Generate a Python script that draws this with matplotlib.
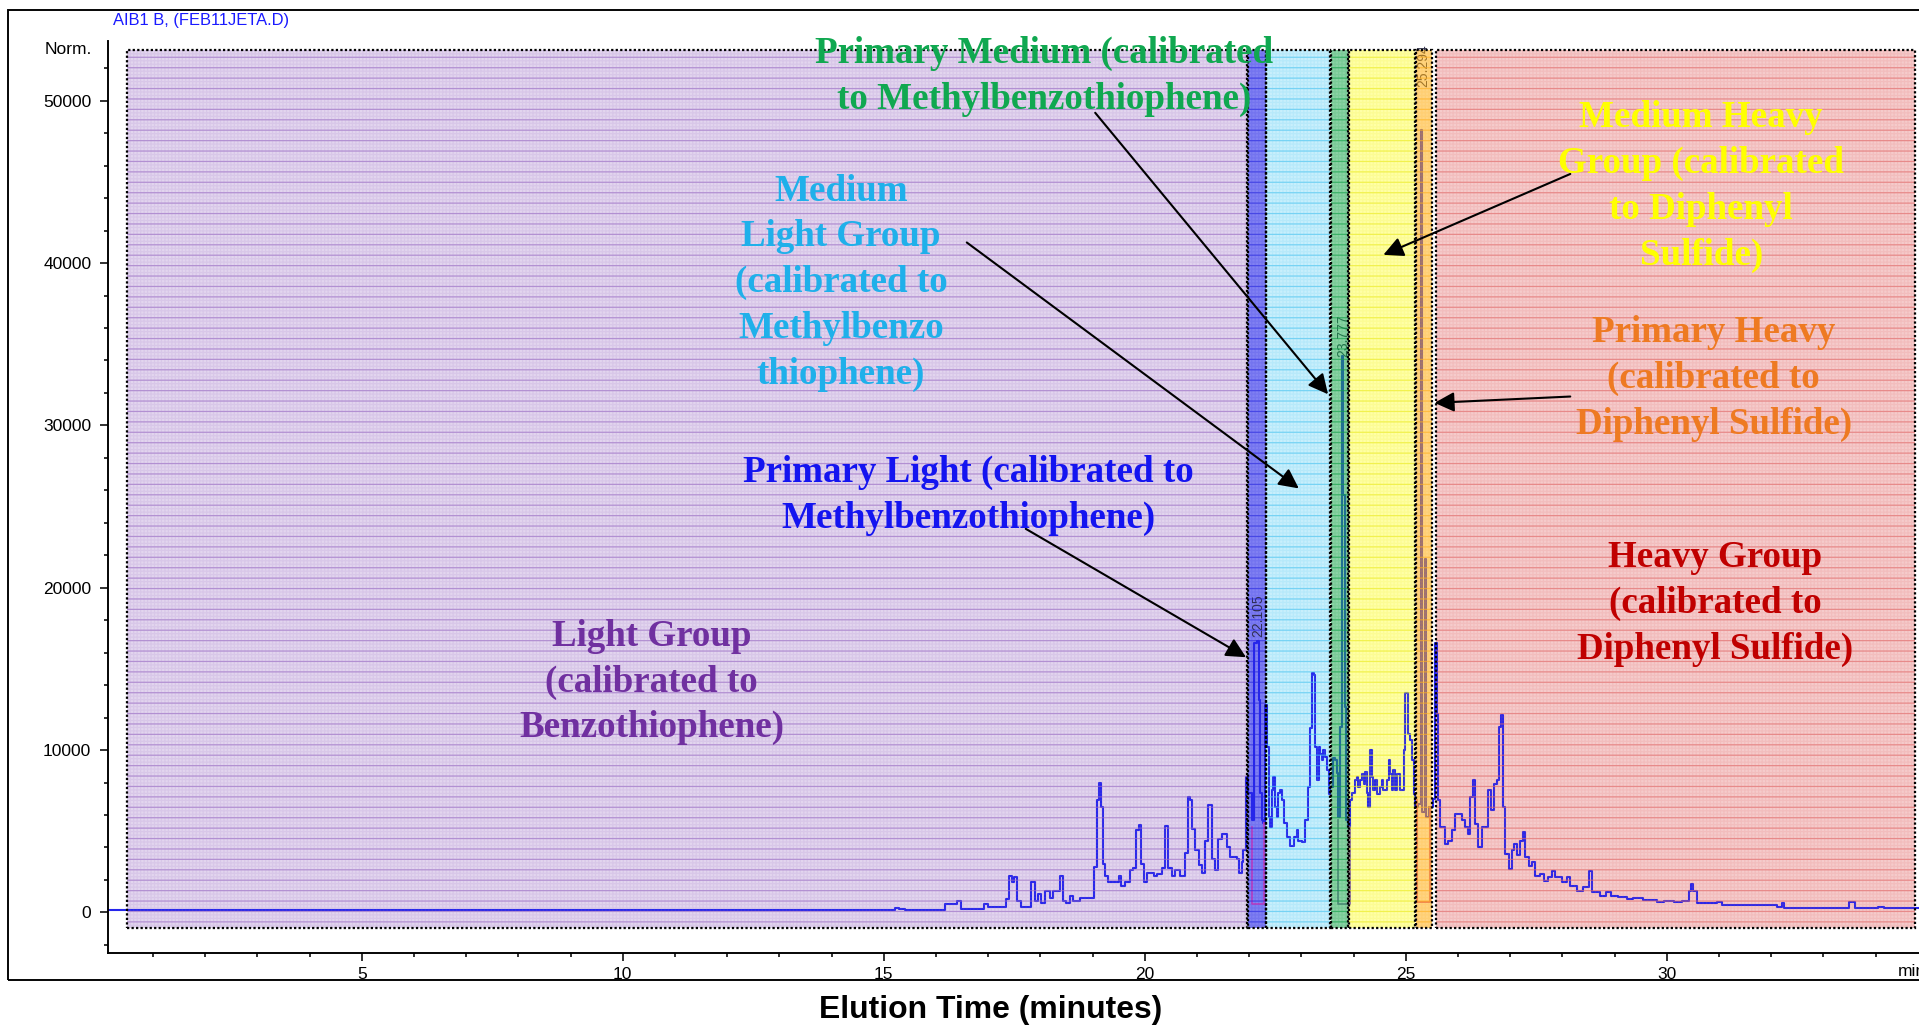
import matplotlib.pyplot as plt
from matplotlib.patches import Rectangle
from matplotlib.ticker import MultipleLocator

plt.rcParams['font.family'] = ['Liberation Sans', 'DejaVu Sans']
plt.rcParams['hatch.linewidth'] = 0.7

# chromatogram trace: retention time (min) and detector counts
time = [0.14, 15.10, 15.22, 15.30, 15.40, 15.60, 16.00, 16.18, 16.30, 16.40, 16.47, 16.70,
        16.92, 17.00, 17.30, 17.34, 17.40, 17.46, 17.50, 17.56, 17.62, 17.80, 17.82, 17.90,
        17.96, 18.02, 18.08, 18.18, 18.25, 18.38, 18.44, 18.50, 18.57, 18.63, 18.75, 19.03,
        19.08, 19.12, 19.16, 19.20, 19.24, 19.30, 19.50, 19.55, 19.62, 19.72, 19.78, 19.84,
        19.88, 19.92, 19.98, 20.04, 20.17, 20.23, 20.32, 20.38, 20.45, 20.52, 20.58, 20.67,
        20.77, 20.83, 20.87, 20.90, 20.96, 21.03, 21.09, 21.15, 21.22, 21.28, 21.35, 21.41,
        21.47, 21.57, 21.63, 21.76, 21.80, 21.86, 21.89, 21.94, 21.98, 22.05, 22.09, 22.15,
        22.18, 22.21, 22.24, 22.27, 22.30, 22.35, 22.37, 22.40, 22.43, 22.46, 22.50, 22.53,
        22.56, 22.59, 22.62, 22.66, 22.72, 22.78, 22.85, 22.91, 22.94, 23.01, 23.07, 23.13,
        23.17, 23.20, 23.24, 23.26, 23.29, 23.33, 23.36, 23.39, 23.42, 23.45, 23.49, 23.52,
        23.55, 23.60, 23.65, 23.68, 23.71, 23.74, 23.77, 23.80, 23.83, 23.86, 23.90, 23.93,
        23.96, 24.03, 24.06, 24.09, 24.12, 24.16, 24.19, 24.22, 24.25, 24.28, 24.32, 24.35,
        24.38, 24.41, 24.44, 24.51, 24.54, 24.57, 24.64, 24.67, 24.70, 24.73, 24.76, 24.80,
        24.83, 24.89, 24.96, 24.99, 25.04, 25.08, 25.11, 25.15, 25.18, 25.24, 25.29, 25.31,
        25.36, 25.39, 25.45, 25.52, 25.55, 25.59, 25.62, 25.66, 25.75, 25.81, 25.88, 25.94,
        26.01, 26.07, 26.14, 26.20, 26.23, 26.28, 26.33, 26.39, 26.46, 26.52, 26.58, 26.63,
        26.68, 26.74, 26.78, 26.82, 26.86, 26.90, 26.97, 27.03, 27.08, 27.13, 27.19, 27.24,
        27.29, 27.35, 27.41, 27.48, 27.57, 27.64, 27.73, 27.80, 27.86, 27.99, 28.08, 28.15,
        28.28, 28.40, 28.50, 28.56, 28.72, 28.84, 28.93, 29.07, 29.23, 29.36, 29.55, 29.81,
        29.94, 30.13, 30.29, 30.42, 30.47, 30.51, 30.57, 30.96, 31.05, 31.95, 32.11, 32.20,
        32.24, 33.35, 33.48, 33.61, 34.05, 34.15, 34.83]
signal = [150, 150, 280, 200, 150, 170, 170, 520, 520, 730, 180, 200,
          500, 350, 350, 800, 2260, 1900, 2200, 730, 320, 350, 1860, 730,
          1150, 600, 1320, 900, 1320, 2250, 730, 600, 1010, 730, 900, 2800,
          6900, 8000, 6520, 3000, 2250, 1900, 2250, 1650, 1900, 2630, 2730, 5090,
          5400, 3000, 1860, 2450, 2250, 2350, 2730, 5300, 2730, 2250, 2630, 2250,
          3630, 7100, 6900, 5150, 3860, 2900, 2450, 4400, 6600, 3300, 2640, 4500,
          4800, 4000, 3400, 3300, 2450, 3100, 3820, 8340, 7330, 5670, 16600, 16700,
          13070, 7330, 5670, 5480, 12770, 10190, 5870, 5250, 7520, 8340, 6490, 5870,
          7330, 7520, 6900, 5480, 4640, 4120, 4640, 5050, 4430, 4330, 5670, 7720,
          11330, 14720, 14620, 10190, 8140, 10190, 9780, 9370, 9990, 9580, 8750, 7310,
          7720, 9490, 9370, 8560, 5870, 11430, 34300, 25700, 12660, 5670, 5250, 6900,
          7330, 8140, 8340, 7720, 8140, 8550, 7930, 8650, 7330, 6490, 9990, 8340,
          7520, 8140, 7310, 7720, 8140, 7520, 8140, 9370, 8550, 7520, 8750, 7520,
          8550, 7520, 9990, 13490, 11020, 10600, 9370, 7310, 6490, 6700, 48200, 6200,
          21800, 5870, 6490, 7000, 16570, 12250, 6900, 5250, 4230, 4430, 5050, 6080,
          6080, 5670, 5250, 4850, 7110, 8140, 5460, 4020, 5250, 5250, 7520, 6280,
          7930, 8140, 11430, 12150, 6490, 3610, 2690, 3820, 4230, 3510, 4430, 4950,
          3400, 2890, 3090, 2270, 2380, 1960, 2170, 2580, 2170, 1860, 2170, 1650,
          1350, 1550, 2580, 1240, 1040, 1240, 1040, 930, 830, 870, 770, 670,
          720, 670, 720, 1350, 1760, 1350, 560, 620, 480, 480, 315, 560,
          280, 280, 620, 280, 350, 280, 280]

# calibration group windows (min)
group_start = [0.50, 21.97, 22.33, 23.57, 23.91, 25.19, 25.57]
group_end = [21.95, 22.32, 23.55, 23.89, 25.18, 25.50, 34.76]
group_fill = ['#e2d5ee', '#8080f2', '#c8effc', '#1faa52', '#ffffa6', '#ffad0d', '#f5cbcb']
group_line = ['#9a6cc4', '#2a2ae0', '#4cc4f0', '#12a048', '#eaea20', '#ffb020', '#e06868']
group_over = [False, False, False, True, False, True, False]
band_bottom = -930
band_top = 53100

# retention time labels
peak_rt = ['22.105', '23.777', '25.294']
peak_x = [22.18, 23.80, 25.34]
peak_y = [16960, 34210, 50830]

# integration drop lines
integ_start = [22.05, 23.71, 25.21]
integ_end = [22.29, 23.93, 25.47]
integ_base = [520, 520, 620]
integ_left = [5250, 5670, 6900]
integ_right = [5480, 5250, 6490]
integ_color = ['#c040c0', '#8a6aa8', '#e0508a']

# callouts
label_text = ['Light Group\n(calibrated to\nBenzothiophene)',
              'Primary Light (calibrated to\nMethylbenzothiophene)',
              'Medium\nLight Group\n(calibrated to\nMethylbenzo\nthiophene)',
              'Primary Medium (calibrated\nto Methylbenzothiophene)',
              'Medium Heavy\nGroup (calibrated\nto Diphenyl\nSulfide)',
              'Primary Heavy\n(calibrated to\nDiphenyl Sulfide)',
              'Heavy Group\n(calibrated to\nDiphenyl Sulfide)']
label_color = ['#7030a0', '#1414f0', '#1fb0ea', '#10a850', '#ffff00', '#ee7a22', '#c00000']
label_x = [10.55, 16.62, 14.18, 18.08, 30.66, 30.90, 30.93]
label_y = [14190, 25710, 38780, 51520, 44700, 32900, 19030]

arrow_from_x = [17.72, 16.59, 19.05, 28.15, 28.15]
arrow_from_y = [23630, 41270, 49260, 45490, 31780]
arrow_to_x = [21.94, 22.95, 23.51, 24.57, 25.55]
arrow_to_y = [15720, 26120, 31920, 40510, 31390]

W, H, DPI = 1919, 1026, 125
fig = plt.figure(figsize=(W / DPI, H / DPI), dpi=DPI)
ax = fig.add_axes([108 / W, 73 / H, 1 - 108 / W, 912.3 / H])

for i in range(len(group_start)):
    x0, w = group_start[i], group_end[i] - group_start[i]
    hgt = band_top - band_bottom
    if group_over[i]:
        ax.add_patch(Rectangle((x0, band_bottom), w, hgt, fc=group_fill[i], alpha=0.52, lw=0, zorder=3))
    else:
        ax.add_patch(Rectangle((x0, band_bottom), w, hgt, fc=group_fill[i], lw=0, zorder=1))
    ax.add_patch(Rectangle((x0, band_bottom), w, hgt, fc='none', ec=group_line[i] + '22',
                           hatch='++++++', lw=0, zorder=3.4))
    ax.add_patch(Rectangle((x0, band_bottom), w, hgt, fc='none', ec=group_line[i] + '99',
                           hatch='--', lw=0, zorder=3.5))
    ax.add_patch(Rectangle((x0, band_bottom), w, hgt, fc='none', ec='black',
                           lw=1.3, ls=(0, (1, 1)), zorder=4))

ax.plot(time, signal, drawstyle='steps-post', color='#2626ec', lw=1.2, zorder=2)

for i in range(len(integ_start)):
    ax.plot([integ_start[i], integ_start[i], integ_end[i], integ_end[i]],
            [integ_left[i], integ_base[i], integ_base[i], integ_right[i]],
            color=integ_color[i], lw=1.0, zorder=2)

for i in range(len(peak_rt)):
    ax.text(peak_x[i], peak_y[i], peak_rt[i], rotation=90, ha='center', va='bottom',
            fontsize=8, color='#303048', zorder=2.5)

for i in range(len(arrow_to_x)):
    ax.annotate('', xy=(arrow_to_x[i], arrow_to_y[i]), xytext=(arrow_from_x[i], arrow_from_y[i]),
                arrowprops=dict(arrowstyle='-|>', mutation_scale=24, lw=1.2, color='black',
                                shrinkA=0, shrinkB=0), zorder=5)

for i in range(len(label_text)):
    ax.text(label_x[i], label_y[i], label_text[i], ha='center', va='center', multialignment='center',
            family=['Liberation Serif'], fontweight='bold', fontsize=21.3, linespacing=1.40,
            color=label_color[i], zorder=6)

ax.set_xlim(0.14, 34.83)
ax.set_ylim(-2500, 53700)
ax.spines['top'].set_visible(False)
ax.spines['right'].set_visible(False)
ax.spines['left'].set_linewidth(1.1)
ax.spines['bottom'].set_linewidth(1.1)
ax.set_facecolor('white')
ax.xaxis.set_major_locator(MultipleLocator(5))
ax.xaxis.set_minor_locator(MultipleLocator(1))
ax.yaxis.set_major_locator(MultipleLocator(10000))
ax.yaxis.set_minor_locator(MultipleLocator(2000))
ax.set_xticks([5, 10, 15, 20, 25, 30])
ax.tick_params(which='major', length=4.6, width=0.9, labelsize=10, direction='out')
ax.tick_params(which='minor', length=2.4, width=0.9, direction='out')
ax.tick_params(axis='y', pad=5)
ax.tick_params(axis='x', pad=3.2)

fig.text(0.5164, 0.0156, 'Elution Time (minutes)', ha='center', va='center',
         fontsize=18.4, fontweight='bold')
fig.text(113 / W, 1 - 20.7 / H, 'AIB1 B, (FEB11JETA.D)', ha='left', va='center',
         fontsize=9.5, color='#1a1aff')
fig.text(92 / W, 1 - 49 / H, 'Norm.', ha='right', va='center', fontsize=10)
fig.text(1898 / W, 1 - 971.7 / H, 'min', ha='left', va='center', fontsize=10)
fig.add_artist(Rectangle((8 / W, 46 / H), 1.0, 970 / H, transform=fig.transFigure,
                         fill=False, lw=1.1, ec='black'))

fig.savefig('out.png', dpi=DPI)
